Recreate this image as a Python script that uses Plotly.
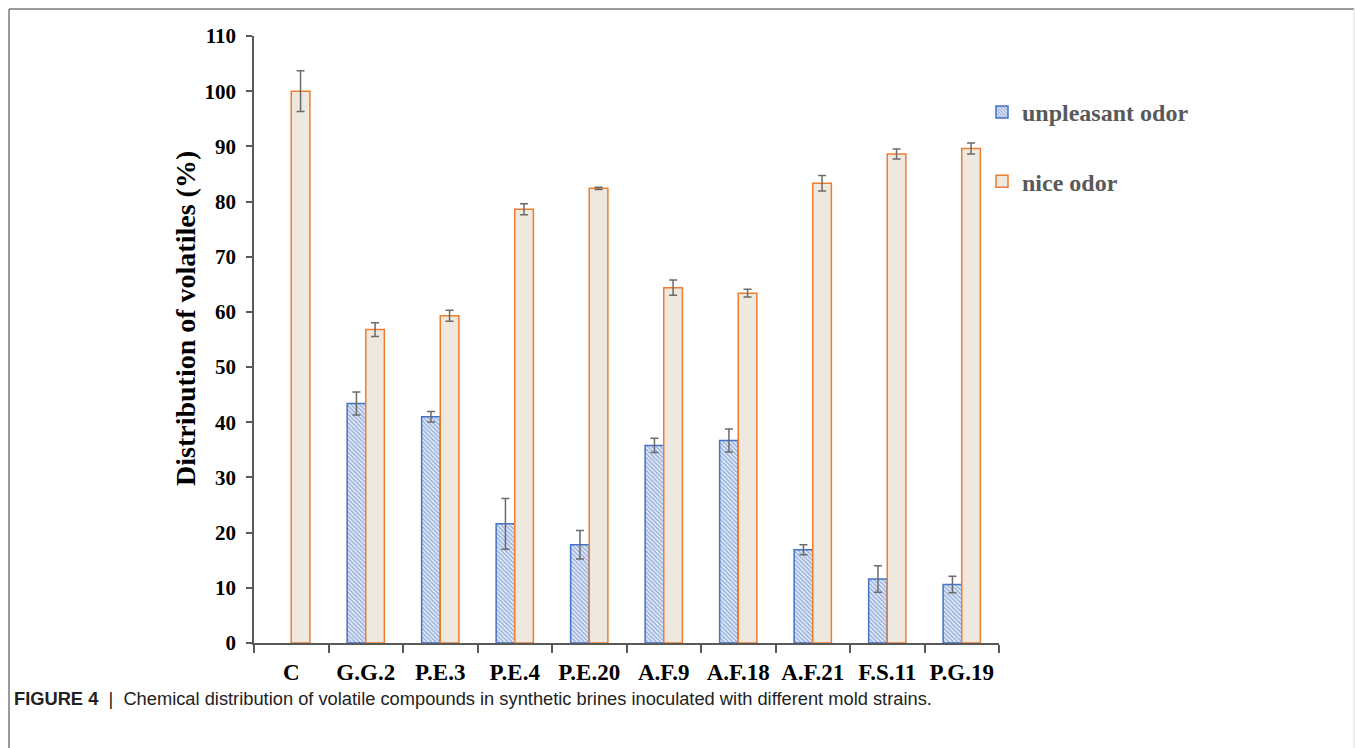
import plotly.graph_objects as go

categories = ["C", "G.G.2", "P.E.3", "P.E.4", "P.E.20", "A.F.9", "A.F.18", "A.F.21", "F.S.11", "P.G.19"]
unpleasant = [None, 43.4, 41.0, 21.6, 17.8, 35.8, 36.7, 16.9, 11.6, 10.6]
unpleasant_err = [None, 2.1, 0.95, 4.6, 2.6, 1.3, 2.1, 0.9, 2.4, 1.5]
nice = [100.0, 56.8, 59.3, 78.6, 82.4, 64.4, 63.4, 83.3, 88.6, 89.6]
nice_err = [3.7, 1.25, 1.0, 1.0, 0.2, 1.4, 0.7, 1.4, 0.9, 1.0]
y_ticks = [0, 10, 20, 30, 40, 50, 60, 70, 80, 90, 100, 110]

SERIF = "Liberation Serif, Times New Roman, serif"
ERR_COLOR = "#6b6b6b"

fig = go.Figure()
fig.add_trace(go.Bar(
    x=categories, y=unpleasant, name="unpleasant odor",
    marker=dict(color="white", line=dict(color="#4472C4", width=1.5),
                pattern=dict(shape="\\", fgcolor="#4472C4", bgcolor="#f4f7fc", size=3, solidity=0.6)),
    error_y=dict(type="data", array=unpleasant_err, color=ERR_COLOR, thickness=1.5, width=4),
    legendgroup="a",
))
fig.add_trace(go.Bar(
    x=categories, y=nice, name="nice odor",
    marker=dict(color="#EEE8DE", line=dict(color="#ED7D31", width=1.5)),
    error_y=dict(type="data", array=nice_err, color=ERR_COLOR, thickness=1.5, width=4),
    legendgroup="b",
))

L, R, T, B = 254, 999, 36, 643
W, H = 1355, 748
pw, ph = R - L, B - T

def px(xp):
    return (xp - L) / pw

def py(yp):
    return (B - yp) / ph

fig.update_layout(
    width=W, height=H,
    margin=dict(l=L, r=W - R, t=T, b=H - B, pad=0),
    paper_bgcolor="white", plot_bgcolor="white",
    barmode="group", bargap=0.5, bargroupgap=0,
    showlegend=True,
    legend=dict(x=px(982), y=py(90), xanchor="left", yanchor="top",
                font=dict(family=SERIF, size=24, color="#595959", weight="bold"),
                tracegroupgap=35, bgcolor="rgba(0,0,0,0)", itemclick=False),
    xaxis=dict(
        showline=True, linecolor="#595959", linewidth=1.5,
        ticks="outside", tickson="boundaries", ticklen=8, tickwidth=1.5, tickcolor="#595959",
        tickfont=dict(family=SERIF, size=23, color="black", weight="bold"),
        ticklabelstandoff=8,
        showgrid=False, zeroline=False,
    ),
    yaxis=dict(
        range=[0, 110], tickvals=y_ticks,
        showline=True, linecolor="#595959", linewidth=1.5,
        ticks="outside", ticklen=6, tickwidth=1.5, tickcolor="#595959",
        tickfont=dict(family=SERIF, size=21, color="black", weight="bold"),
        ticklabelstandoff=6,
        showgrid=False, zeroline=False,
    ),
    annotations=[
        dict(text="Distribution of volatiles (%)", textangle=-90,
             xref="paper", yref="paper", x=px(185), y=py(319),
             xanchor="center", yanchor="middle", showarrow=False,
             font=dict(family=SERIF, size=28, color="black", weight="bold")),
        dict(text="<b>FIGURE 4</b>  |  Chemical distribution of volatile compounds in synthetic brines inoculated with different mold strains.",
             xref="paper", yref="paper", x=px(12), y=py(698),
             xanchor="left", yanchor="middle", showarrow=False,
             font=dict(family="Liberation Sans, Arial, sans-serif", size=18.3, color="#222222")),
    ],
    shapes=[
        dict(type="line", xref="paper", yref="paper", x0=px(9), x1=px(1354), y0=py(9), y1=py(9),
             line=dict(color="#7a7a7a", width=1.5)),
        dict(type="line", xref="paper", yref="paper", x0=px(9), x1=px(9), y0=py(9), y1=py(760),
             line=dict(color="#7a7a7a", width=1.5)),
        dict(type="line", xref="paper", yref="paper", x0=px(1354), x1=px(1354), y0=py(9), y1=py(760),
             line=dict(color="#dddddd", width=1)),
    ],
)

fig.write_html("out.html")
